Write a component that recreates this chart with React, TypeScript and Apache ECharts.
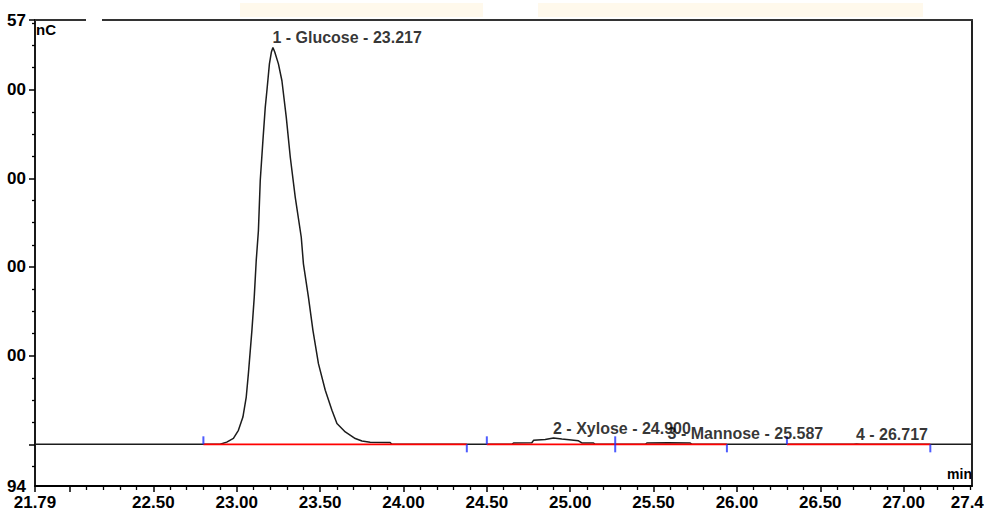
import React, { useEffect, useRef } from "react";
import * as echarts from "echarts";

// ---- axis ranges ----
const timeMin = 21.79;
const timeMax = 27.41;
const signalMin = -94;
const signalMax = 957;

// ---- chromatogram trace (min, nC) ----
const traceTime = [
  21.79, 22.8, 22.9, 22.94, 22.98, 23.01, 23.037, 23.057, 23.07, 23.091, 23.105, 23.117,
  23.13, 23.141, 23.157, 23.171, 23.181, 23.196, 23.208, 23.217, 23.228, 23.25, 23.271,
  23.297, 23.321, 23.351, 23.387, 23.4, 23.43, 23.457, 23.49, 23.531, 23.571, 23.601,
  23.651, 23.711, 23.751, 23.8, 23.92, 23.93, 24.65, 24.66, 24.77, 24.78, 24.85, 24.9,
  24.95, 25.05, 25.07, 25.14, 25.15, 25.45, 25.46, 25.587, 25.72, 25.73, 26.7, 26.717,
  26.74, 27.41,
];
const traceSignal = [
  0, 0, 0, 5, 13.5, 31.5, 61.5, 106.6, 160, 257, 332, 415,
  482, 595, 685, 760, 798, 858, 885, 895, 885, 858, 820,
  738, 648, 557, 467, 407, 332, 257, 182, 122, 77, 47,
  28, 13, 7.4, 4.5, 4, 0, 0, 3, 3.5, 9, 11, 14.5,
  12, 8, 3, 3, 0, 0, 3, 3.5, 3, 0, 0, 1,
  0, 0,
];

// ---- peaks ----
const peakTime = [23.217, 24.9, 25.587, 26.717];
const peakSignal = [895, 14.5, 3.5, 1];
const peakLabel = [
  "1 - Glucose - 23.217",
  "2 - Xylose - 24.900",
  "3 - Mannose - 25.587",
  "4 - 26.717",
];

// ---- integration baselines ----
const baselineStart = [22.8, 24.5, 25.27, 26.3];
const baselineEnd = [24.38, 25.27, 25.94, 27.16];

// ---- integration markers ----
const markerTime = [22.8, 24.38, 24.5, 25.27, 25.94, 26.3, 27.16];
const markerKind = ["up", "down", "up", "both", "down", "up", "down"];

// ---- tick labels ----
const xLabelValues = [21.79, 22.5, 23, 23.5, 24, 24.5, 25, 25.5, 26, 26.5, 27, 27.41];
const xLabelText = ["21.79", "22.50", "23.00", "23.50", "24.00", "24.50", "25.00", "25.50", "26.00", "26.50", "27.00", "27.41"];
const xMajorTicks = [21.79, 22, 22.5, 23, 23.5, 24, 24.5, 25, 25.5, 26, 26.5, 27];
const yLabelValues = [-94, 200, 400, 600, 800, 957];
const yLabelText = ["94", "00", "00", "00", "00", "57"];
const yMajorTicks = [0, 200, 400, 600, 800, 957];

const xMinorTicks: number[] = [];
for (let k = 221; k <= 274; k++) if (k % 5 !== 0) xMinorTicks.push(k / 10);
const yMinorTicks: number[] = [];
for (let v = -50; v <= 950; v += 50) if (v % 200 !== 0) yMinorTicks.push(v);

const FONT = "'Liberation Sans', Arial, sans-serif";

export default function App() {
  const ref = useRef<HTMLDivElement>(null);
  useEffect(() => {
    if (!ref.current) return;
    const chart = echarts.init(ref.current, null, { renderer: "svg" });

    const hidden = { show: false };
    const baseX = { type: "value", min: timeMin, max: timeMax, splitLine: hidden, gridIndex: 0 };
    const baseY = { type: "value", min: signalMin, max: signalMax, splitLine: hidden, gridIndex: 0 };

    const baselineSeries = baselineStart.map((s, i) => ({
      type: "line",
      xAxisIndex: 0,
      yAxisIndex: 0,
      data: [[s, 0], [baselineEnd[i], 0]],
      symbol: "none",
      lineStyle: { color: "#ff0000", width: 1.8 },
      z: 3,
      silent: true,
    }));

    const option: any = {
      animation: false,
      backgroundColor: "#ffffff",
      grid: { left: 35, right: 12, top: 20, bottom: 26, containLabel: false, outerBoundsMode: "none" },
      xAxis: [
        {
          ...baseX,
          position: "bottom",
          axisLine: { show: true, onZero: false, lineStyle: { color: "#000", width: 1.8 } },
          axisTick: { show: true, customValues: xMajorTicks, length: 6, lineStyle: { color: "#000", width: 1.5 } },
          axisLabel: {
            show: true,
            customValues: xLabelValues,
            margin: 8,
            formatter: (v: number) => {
              const i = xLabelValues.findIndex((x) => Math.abs(x - v) < 1e-6);
              return i >= 0 ? xLabelText[i] : "";
            },
            color: "#000",
            fontSize: 17,
            fontWeight: "bold",
            fontFamily: FONT,
          },
        },
        {
          ...baseX,
          position: "bottom",
          axisLine: { show: false, onZero: false },
          axisTick: { show: true, customValues: xMinorTicks, length: 4, lineStyle: { color: "#000", width: 1.3 } },
          axisLabel: hidden,
        },
        {
          ...baseX,
          position: "top",
          axisLine: { show: true, onZero: false, lineStyle: { color: "#333", width: 2.2 } },
          axisTick: hidden,
          axisLabel: hidden,
        },
      ],
      yAxis: [
        {
          ...baseY,
          position: "left",
          axisLine: { show: true, onZero: false, lineStyle: { color: "#000", width: 1.8 } },
          axisTick: { show: true, customValues: yMajorTicks, length: 6, lineStyle: { color: "#000", width: 1.5 } },
          axisLabel: {
            show: true,
            customValues: yLabelValues,
            margin: 9,
            formatter: (v: number) => {
              const i = yLabelValues.findIndex((x) => Math.abs(x - v) < 1e-6);
              return i >= 0 ? yLabelText[i] : "";
            },
            color: "#000",
            fontSize: 17,
            fontWeight: "bold",
            fontFamily: FONT,
          },
        },
        {
          ...baseY,
          position: "left",
          axisLine: { show: false, onZero: false },
          axisTick: { show: true, customValues: yMinorTicks, length: 3, lineStyle: { color: "#000", width: 1.3 } },
          axisLabel: hidden,
        },
        {
          ...baseY,
          position: "right",
          axisLine: { show: true, onZero: false, lineStyle: { color: "#222", width: 2 } },
          axisTick: hidden,
          axisLabel: hidden,
        },
      ],
      graphic: [
        { type: "rect", shape: { x: 240, y: 3, width: 243, height: 14 }, style: { fill: "#fff9ec" }, z: -1 },
        { type: "rect", shape: { x: 538, y: 3, width: 385, height: 14 }, style: { fill: "#fff9ec" }, z: -1 },
        { type: "rect", shape: { x: 86, y: 16, width: 16, height: 8 }, style: { fill: "#ffffff" }, z: 100 },
        {
          type: "text",
          left: 36,
          top: 22,
          style: { text: "nC", fontSize: 15, fontWeight: "bold", fontFamily: FONT, fill: "#000" },
          z: 100,
        },
        {
          type: "text",
          right: 12,
          top: 467,
          style: { text: "min", fontSize: 14, fontWeight: "bold", fontFamily: FONT, fill: "#000" },
          z: 100,
        },
      ],
      series: [
        {
          type: "line",
          xAxisIndex: 0,
          yAxisIndex: 0,
          data: traceTime.map((t, i) => [t, traceSignal[i]]),
          symbol: "none",
          lineStyle: { color: "#1c1c1c", width: 1.5 },
          z: 2,
          silent: true,
        },
        ...baselineSeries,
        {
          type: "scatter",
          xAxisIndex: 0,
          yAxisIndex: 0,
          symbol: "rect",
          itemStyle: { color: "#2233ff" },
          z: 4,
          silent: true,
          data: markerTime.map((t, i) => {
            const k = markerKind[i];
            if (k === "up") return { value: [t, 0], symbolSize: [2, 8], symbolOffset: [0, -4] };
            if (k === "down") return { value: [t, 0], symbolSize: [2, 8], symbolOffset: [0, 4] };
            return { value: [t, 0], symbolSize: [2, 16], symbolOffset: [0, 0] };
          }),
        },
        {
          type: "scatter",
          xAxisIndex: 0,
          yAxisIndex: 0,
          symbol: "circle",
          symbolSize: 1,
          itemStyle: { color: "transparent" },
          z: 5,
          silent: true,
          data: peakTime.map((t, i) => ({ value: [t, peakSignal[i]], name: peakLabel[i] })),
          label: {
            show: true,
            formatter: "{b}",
            position: [0, -1],
            align: "left",
            verticalAlign: "bottom",
            color: "#000",
            fontSize: 16,
            fontWeight: "bold",
            fontFamily: FONT,
          },
        },
      ],
    };
    chart.setOption(option);
    return () => chart.dispose();
  }, []);

  return (
    <div
      ref={ref}
      style={{ position: "absolute", left: 0, top: 0, width: 984, height: 512, background: "#fff" }}
    />
  );
}
